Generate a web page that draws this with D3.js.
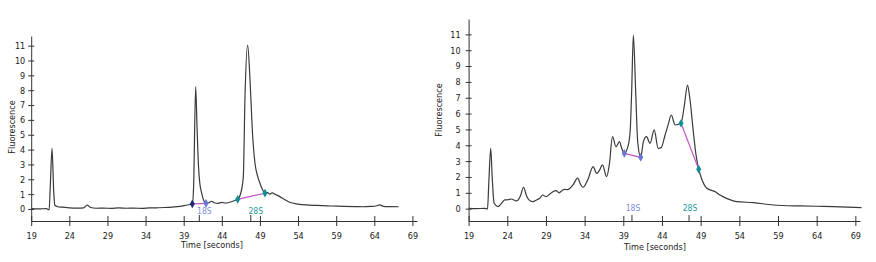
<!DOCTYPE html>
<html>
<head>
<meta charset="utf-8">
<script src="https://cdn.jsdelivr.net/npm/d3@7"></script>
<style>
  body { margin: 0; background: #fff; }
  svg { display: block; }
  text { font-family: "Liberation Sans Narrow", "Arial Narrow", "DejaVu Sans Condensed", sans-serif; fill: #222; }
</style>
</head>
<body>
<svg id="chart"></svg>
<script>
// electropherogram traces, [time (s), fluorescence]
const leftTrace = [
  [19, 0.02], [20, 0.0], [21, 0.03], [21.35, -0.06], [21.5, 1.5], [21.73, 4.09], [21.95, 1.2], [22.1, 0.25],
  [22.5, 0.15], [23, 0.12], [24, 0.08], [25, 0.06], [25.9, 0.08], [26.35, 0.26], [26.8, 0.1], [27.5, 0.05],
  [28.5, 0.06], [29.5, 0.04], [30.5, 0.07], [31.5, 0.05], [32.5, 0.06], [33.5, 0.04], [34.5, 0.07], [35.5, 0.08],
  [36.5, 0.1], [37.5, 0.13], [38.5, 0.17], [39.3, 0.25], [39.8, 0.3], [40.13, 0.34], [40.3, 1.5], [40.57, 8.24],
  [40.75, 5.5], [40.92, 3.08], [41.1, 1.8], [41.36, 1.06], [41.6, 0.6], [41.93, 0.38], [42.3, 0.42], [42.67, 0.52],
  [43.0, 0.42], [43.5, 0.38], [44, 0.44], [44.5, 0.4], [45, 0.45], [45.6, 0.55], [46.08, 0.65], [46.5, 1.1],
  [46.82, 2.18], [47.04, 7.56], [47.39, 11.04], [47.7, 8.69], [48.0, 5.32], [48.35, 3.08], [48.7, 2.2], [49.0, 1.73],
  [49.3, 1.35], [49.66, 1.06], [50.0, 1.1], [50.3, 1.0], [50.6, 1.08], [51, 0.98], [51.6, 0.83], [52.2, 0.65],
  [52.9, 0.45], [54, 0.33], [55.1, 0.27], [56.5, 0.24], [58.2, 0.2], [60, 0.18], [61.5, 0.16], [62.5, 0.15],
  [63.5, 0.17], [64.2, 0.2], [64.7, 0.27], [65.2, 0.18], [66, 0.16], [67.2, 0.15]
];

const rightTrace = [
  [19, 0.02], [20, 0.0], [21, 0.02], [21.45, -0.02], [21.6, 1.5], [21.86, 3.81], [22.05, 2.0], [22.3, 0.34],
  [22.8, 0.13], [23.2, 0.3], [23.67, 0.55], [24.1, 0.56], [24.5, 0.61], [25.2, 0.49], [25.7, 0.8], [26.1, 1.35],
  [26.5, 0.8], [26.8, 0.55], [27.3, 0.44], [27.8, 0.55], [28.2, 0.66], [28.6, 0.86], [29.0, 0.75], [29.5, 0.92],
  [29.9, 1.07], [30.3, 1.14], [30.7, 1.0], [31.1, 1.15], [31.4, 1.22], [31.8, 1.2], [32.5, 1.5], [33.1, 1.92],
  [33.5, 1.5], [33.8, 1.35], [34.4, 1.81], [35.1, 2.65], [35.55, 2.23], [35.9, 2.4], [36.3, 2.76], [36.85, 2.02],
  [37.2, 2.8], [37.6, 4.54], [38.05, 3.91], [38.5, 4.23], [38.8, 3.8], [39.13, 3.49], [39.65, 4.02], [39.9, 5.0],
  [40.08, 7.38], [40.3, 10.96], [40.6, 7.38], [40.86, 4.23], [41.25, 3.24], [41.6, 4.23], [42.0, 4.54], [42.45, 4.13],
  [43.0, 4.97], [43.5, 3.81], [43.9, 3.85], [44.4, 4.65], [44.8, 5.3], [45.2, 5.91], [45.7, 5.28], [46.46, 5.39],
  [46.9, 6.54], [47.3, 7.8], [47.6, 6.97], [48.05, 4.86], [48.4, 3.39], [48.75, 2.49], [49.1, 1.92], [49.8, 1.29],
  [50.9, 1.07], [51.5, 0.86], [52.5, 0.62], [53.7, 0.44], [55.8, 0.38], [58.4, 0.23], [61.8, 0.17], [64, 0.15],
  [66.1, 0.13], [68, 0.1], [69.8, 0.06]
];

// peak integration start/end points
const leftMarks18S = [[40.13, 0.34], [41.93, 0.38]];
const leftMarks28S = [[46.08, 0.65], [49.66, 1.06]];
const rightMarks18S = [[39.13, 3.49], [41.25, 3.24]];
const rightMarks28S = [[46.46, 5.39], [48.75, 2.49]];

// ribosomal peak reference times
const rrnaNames = ['18S', '28S'];
const leftRrnaTimes = [41.05, 47.8];
const rightRrnaTimes = [40.12, 47.5];

const timeTicks = [19, 24, 29, 34, 39, 44, 49, 54, 59, 64, 69];
const fluorTicks = d3.range(0, 12);

const W = 876, H = 262;
const svg = d3.select('#chart').attr('width', W).attr('height', H);

const rrnaColor = { '18S': '#7f8fdc', '28S': '#1e9c9c' };

function drawPanel(o) {
  const x = d3.scaleLinear().domain([19, 69.6]).range(o.xr);
  const y = d3.scaleLinear().domain(o.yd).range(o.yr);
  const g = svg.append('g');

  const xAxis = g.append('g')
    .attr('transform', `translate(0,${o.yr[0]})`)
    .call(d3.axisBottom(x).tickValues(timeTicks).tickSize(5).tickSizeOuter(0));
  xAxis.selectAll('.tick line').attr('y1', -5);
  xAxis.selectAll('.tick text').attr('y', 12).attr('dy', '0.71em').attr('font-size', 9);

  const yAxis = g.append('g')
    .attr('transform', `translate(${o.xr[0]},0)`)
    .call(d3.axisLeft(y).tickValues(fluorTicks).tickSize(3).tickSizeOuter(0));
  yAxis.selectAll('.tick line').attr('x1', 3);
  yAxis.selectAll('.tick text').attr('x', -o.yLabelGap).attr('font-size', 9);

  g.selectAll('.domain, .tick line').attr('stroke', '#333').attr('stroke-width', 1);
  g.selectAll('text').attr('font-family', null).attr('fill', '#222');

  // reference marks for 18S / 28S
  rrnaNames.forEach((n, i) => {
    const px = x(o.rrna[i]);
    g.append('line')
      .attr('x1', px).attr('x2', px)
      .attr('y1', o.yr[0] - 6).attr('y2', o.yr[0])
      .attr('stroke', '#333');
    g.append('text')
      .attr('x', px + o.rrnaDx).attr('y', o.rrnaY)
      .attr('text-anchor', 'middle')
      .attr('font-size', 8.5)
      .style('fill', rrnaColor[n])
      .text(n);
  });

  const line = d3.line()
    .x(d => x(d[0]))
    .y(d => y(d[1]))
    .curve(d3.curveMonotoneX);

  g.append('path')
    .datum(o.trace)
    .attr('fill', 'none')
    .attr('stroke', '#3a3a3a')
    .attr('stroke-width', 1.2)
    .attr('d', line);

  [[o.m18, o.c18], [o.m28, o.c28]].forEach(([pts, cols]) => {
    g.append('path')
      .datum(pts)
      .attr('fill', 'none')
      .attr('stroke', '#c356c8')
      .attr('stroke-width', 1.2)
      .attr('d', d3.line().x(d => x(d[0])).y(d => y(d[1])));
    g.selectAll(null)
      .data(pts)
      .enter()
      .append('path')
      .attr('transform', d => `translate(${x(d[0])},${y(d[1])})`)
      .attr('d', d3.symbol(d3.symbolDiamond, 22))
      .attr('fill', (d, i) => cols[i]);
  });

  g.append('text')
    .attr('x', o.xLabel[0]).attr('y', o.xLabel[1])
    .attr('text-anchor', 'middle')
    .attr('font-size', 9)
    .text('Time [seconds]');

  g.append('text')
    .attr('transform', `translate(${o.yLabel[0]},${o.yLabel[1]}) rotate(-90)`)
    .attr('text-anchor', 'middle')
    .attr('font-size', 9)
    .text('Fluorescence');
}

drawPanel({
  xr: [31.2, 417], yd: [-0.81, 11.65], yr: [221, 36],
  trace: leftTrace, m18: leftMarks18S, m28: leftMarks28S,
  c18: ['#1c2a78', '#6a74d6'], c28: ['#138f92', '#138f92'],
  rrna: leftRrnaTimes, rrnaDx: 5, rrnaY: 214,
  yLabelGap: 6, xLabel: [212, 248], yLabel: [15, 127]
});

drawPanel({
  xr: [468.6, 860], yd: [-0.78, 11.97], yr: [221, 19],
  trace: rightTrace, m18: rightMarks18S, m28: rightMarks28S,
  c18: ['#6a74d6', '#6a74d6'], c28: ['#138f92', '#138f92'],
  rrna: rightRrnaTimes, rrnaDx: 1, rrnaY: 211,
  yLabelGap: 8, xLabel: [655, 249.5], yLabel: [442, 110]
});
</script>
</body>
</html>
